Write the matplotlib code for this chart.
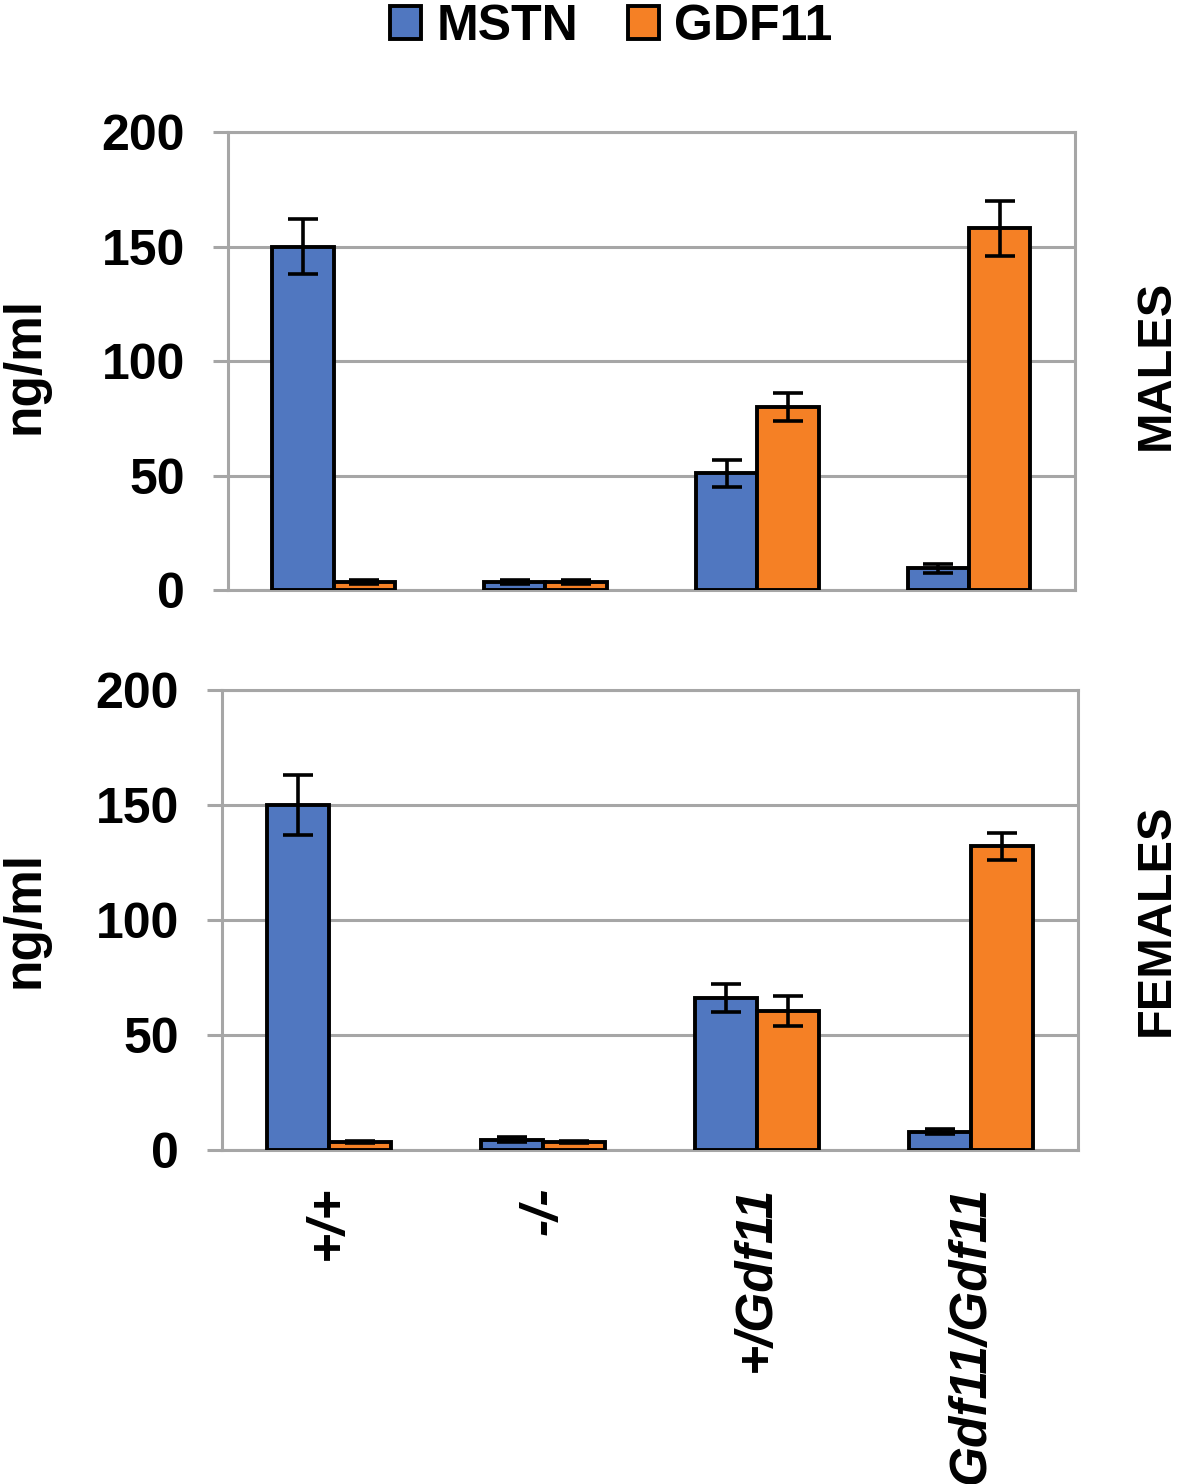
import matplotlib
matplotlib.use("Agg")
import matplotlib.pyplot as plt
import numpy as np
from matplotlib.patches import Patch

plt.rcParams["font.family"] = ["Liberation Sans", "DejaVu Sans"]
plt.rcParams["font.weight"] = "bold"

genotypes = ["+/+", "-/-", "+/Gdf11", "Gdf11/Gdf11"]
series = ["MSTN", "GDF11"]

# males
male_mstn = [150, 3.5, 51, 9.5]
male_mstn_err = [12, 1, 6, 2]
male_gdf11 = [3.5, 3.5, 80, 158]
male_gdf11_err = [1, 1, 6, 12]

# females
female_mstn = [150, 4.5, 66, 8]
female_mstn_err = [13, 1, 6, 1]
female_gdf11 = [3.5, 3.5, 60.5, 132]
female_gdf11_err = [0.5, 0.5, 6.5, 6]

blue = "#5077C0"
orange = "#F58025"
grid_gray = "#A6A6A6"
fs = 36

fig = plt.figure(figsize=(11.8, 14.84), dpi=100)
ax_top = fig.add_axes([0.193, 0.6024, 0.718, 0.3086])
ax_bot = fig.add_axes([0.188, 0.2251, 0.7254, 0.310])

x = np.arange(len(genotypes))
w = 0.29

panels = [
    (ax_top, male_mstn, male_mstn_err, male_gdf11, male_gdf11_err, "MALES", 365),
    (ax_bot, female_mstn, female_mstn_err, female_gdf11, female_gdf11_err, "FEMALES", 920),
]

for ax, m, me, g, ge, label, ypix in panels:
    ebar = dict(ecolor="black", elinewidth=2.6, capsize=11, capthick=2.6)
    ax.bar(x - w / 2, m, w, yerr=me, color=blue, edgecolor="black",
           linewidth=2.8, error_kw=ebar, zorder=3)
    ax.bar(x + w / 2, g, w, yerr=ge, color=orange, edgecolor="black",
           linewidth=2.8, error_kw=ebar, zorder=3)
    ax.set_xlim(-0.5, 3.5)
    ax.set_ylim(0, 200)
    ax.set_yticks([0, 50, 100, 150, 200])
    ax.yaxis.grid(True, color=grid_gray, linewidth=2.2, zorder=0)
    for s in ax.spines.values():
        s.set_color(grid_gray)
        s.set_linewidth(2.2)
    ax.tick_params(axis="y", length=11, width=2.2, color=grid_gray,
                   labelsize=fs, pad=20)
    ax.tick_params(axis="x", length=0)
    for t in ax.get_yticklabels():
        t.set_fontweight("bold")
    fig.text(25 / 1180, 1 - ypix / 1484, "ng/ml", rotation=90, ha="center",
             va="center", fontsize=fs + 1, fontweight="bold")
    fig.text(1156 / 1180, 1 - ypix / 1484, label, rotation=90, ha="center",
             va="center", fontsize=fs - 1, fontweight="bold")

ax_top.set_xticks(x)
ax_top.set_xticklabels([])
ax_bot.set_xticks(x)
ax_bot.set_xticklabels(genotypes, rotation=90, fontsize=fs + 1,
                       fontweight="bold", fontstyle="italic")
ax_bot.tick_params(axis="x", pad=26)

handles = [Patch(facecolor=blue, edgecolor="black", linewidth=2.8),
           Patch(facecolor=orange, edgecolor="black", linewidth=2.8)]
fig.legend(handles, series, loc="center", bbox_to_anchor=(0.518, 1 - 27 / 1484),
           ncol=2, frameon=False, prop={"size": fs, "weight": "bold"},
           handlelength=0.62, handleheight=0.62, handletextpad=0.3,
           columnspacing=1.0, borderpad=0)

fig.savefig("out.png", dpi=100)
